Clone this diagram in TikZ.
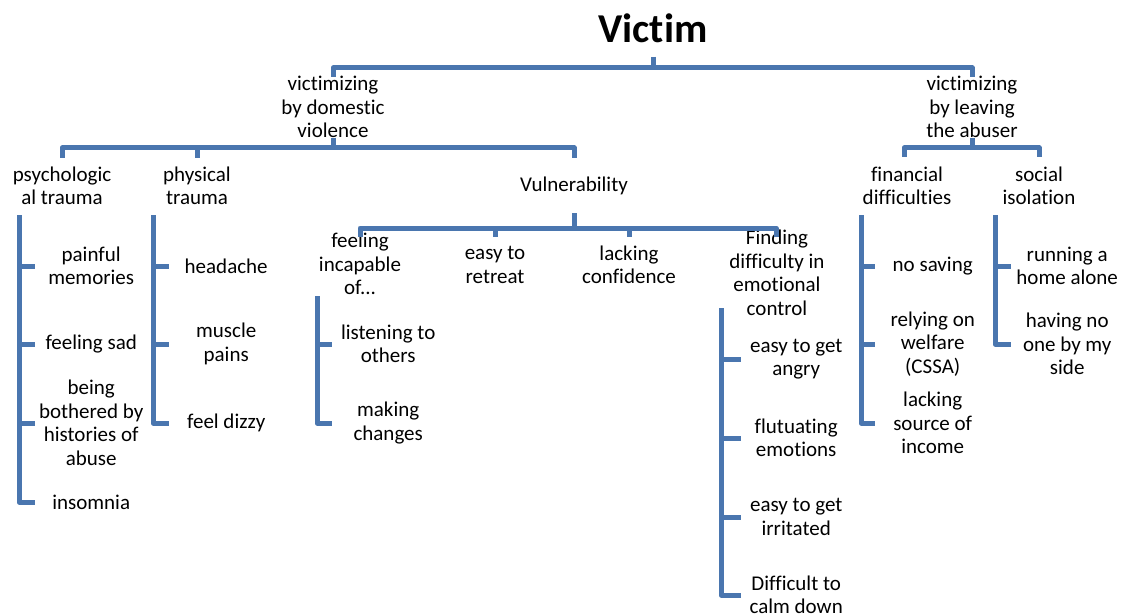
\documentclass[tikz,border=0pt]{standalone}
\usepackage{fontspec}
\setmainfont{Carlito}[Ligatures={NoCommon,NoRequired,NoContextual}]
\definecolor{lineblue}{HTML}{4A76AF}
\begin{document}
\begin{tikzpicture}[x=1pt,y=-1pt,
  conn/.style={draw=lineblue,line width=5pt,line join=round},
  lbl/.style={inner sep=0pt,align=center,font=\fontsize{21}{23.5}\selectfont},
  item/.style={lbl,anchor=west,minimum width=#1},
  title/.style={inner sep=0pt,font=\fontsize{41}{46}\selectfont\bfseries}]
\useasboundingbox (0,0) rectangle (1135,615);

% tree nodes
\node[title] (victim) at (653,28) {Victim};
\node[lbl] (dv) at (333,107) {victimizing\\by domestic\\violence};
\node[lbl] (lv) at (972,107) {victimizing\\by leaving\\the abuser};
\node[lbl] (psy) at (62,186) {psychologic\\al trauma};
\node[lbl] (phy) at (197,186) {physical\\trauma};
\node[lbl] (vul) at (574,186) {Vulnerability};
\node[lbl] (fin) at (907,186) {financial\\difficulties};
\node[lbl] (soc) at (1039,186) {social\\isolation};
\node[lbl] (feel) at (360,264) {feeling\\incapable\\of...};
\node[lbl] (ret) at (495,265) {easy to\\retreat};
\node[lbl] (conf) at (629,265) {lacking\\confidence};
\node[lbl] (emo) at (777,273) {Finding\\difficulty in\\emotional\\control};

% list items
\node[item=112] (pm) at (35,266) {painful\\memories};
\node[item=112] (sad) at (35,344) {feeling sad};
\node[item=112] (hist) at (35,423) {being\\bothered by\\histories of\\abuse};
\node[item=112] (ins) at (35,502) {insomnia};

\node[item=114] (head) at (169,266) {headache};
\node[item=114] (musc) at (169,344) {muscle\\pains};
\node[item=114] (dizzy) at (169,423) {feel dizzy};

\node[item=112] (listen) at (332,344) {listening to\\others};
\node[item=112] (change) at (332,423) {making\\changes};

\node[item=110] (angry) at (741,359) {easy to get\\angry};
\node[item=110] (flut) at (741,438) {flutuating\\emotions};
\node[item=110] (irr) at (741,517) {easy to get\\irritated};
\node[item=110] (calm) at (741,595) {Difficult to\\calm down};

\node[item=115] (save) at (875,266) {no saving};
\node[item=115] (welf) at (875,344) {relying on\\welfare\\(CSSA)};
\node[item=115] (inc) at (875,423) {lacking\\source of\\income};

\node[item=112] (home) at (1011,266) {running a\\home alone};
\node[item=112] (side) at (1011,344) {having no\\one by my\\side};

% connector end points
\coordinate (victim-out) at (653,57);
\coordinate (dv-in) at (333,77);
\coordinate (lv-in) at (972,77);
\coordinate (dv-out) at (333,138);
\coordinate (lv-out) at (972,138);
\coordinate (psy-in) at (62,158);
\coordinate (phy-in) at (197,158);
\coordinate (vul-in) at (574,158);
\coordinate (fin-in) at (904,157);
\coordinate (soc-in) at (1039,157);
\coordinate (vul-out) at (574,213);
\coordinate (feel-in) at (360,237);
\coordinate (ret-in) at (495,237);
\coordinate (conf-in) at (629,237);
\coordinate (emo-in) at (776,237);
\coordinate (psy-list) at (19,215);
\coordinate (phy-list) at (153,215);
\coordinate (feel-list) at (317,296);
\coordinate (emo-list) at (721,308);
\coordinate (fin-list) at (861,215);
\coordinate (soc-list) at (995,215);

% hierarchy connectors
\foreach \c in {dv-in,lv-in}
  \draw[conn] (victim-out) -- ++(0,11) -| (\c);
\foreach \c in {psy-in,phy-in,vul-in}
  \draw[conn] (dv-out) -- ++(0,10) -| (\c);
\foreach \c in {fin-in,soc-in}
  \draw[conn] (lv-out) -- ++(0,10) -| (\c);
\foreach \c in {feel-in,ret-in,conf-in,emo-in}
  \draw[conn] (vul-out) -- ++(0,15) -| (\c);

% list connectors
\foreach \c in {pm,sad,hist,ins}
  \draw[conn] (psy-list) |- (\c.west);
\foreach \c in {head,musc,dizzy}
  \draw[conn] (phy-list) |- (\c.west);
\foreach \c in {listen,change}
  \draw[conn] (feel-list) |- (\c.west);
\foreach \c in {angry,flut,irr,calm}
  \draw[conn] (emo-list) |- (\c.west);
\foreach \c in {save,welf,inc}
  \draw[conn] (fin-list) |- (\c.west);
\foreach \c in {home,side}
  \draw[conn] (soc-list) |- (\c.west);
\end{tikzpicture}
\end{document}
